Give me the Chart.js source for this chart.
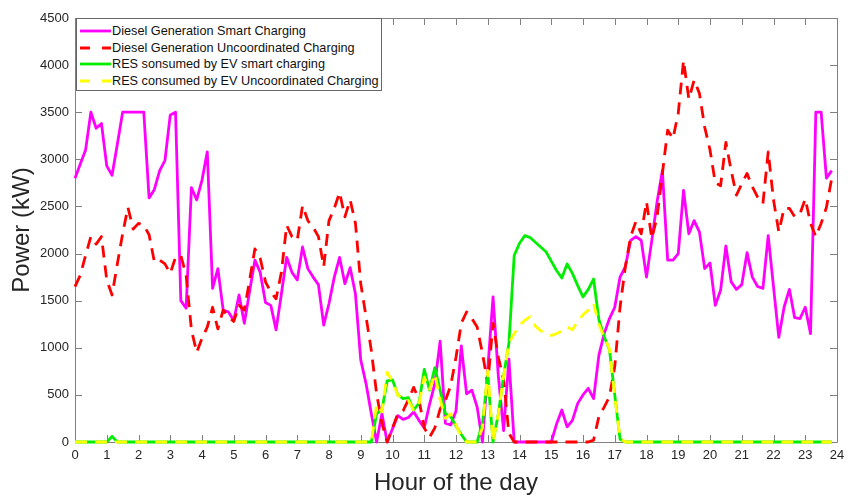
<!DOCTYPE html>
<html>
<head>
<meta charset="utf-8">
<script src="https://cdn.jsdelivr.net/npm/chart.js@4.4.1/dist/chart.umd.min.js"></script>
<style>
  body { margin: 0; background: #fff; }
  #wrap { position: relative; width: 858px; height: 498px; }
  #legend {
    position: absolute; left: 76px; top: 18px; width: 306px; height: 73px;
    box-sizing: border-box; border: 1px solid #666; background: #fff;
    font: 12.7px "Liberation Sans", Arial, sans-serif; color: #111; padding-top: 4px;
  }
  .row { height: 16.6px; display: flex; align-items: center; white-space: nowrap; }
  .row svg { margin: 0 1px 0 3px; }
</style>
</head>
<body>
<div id="wrap">
  <canvas id="chart" width="858" height="498"></canvas>
  <div id="legend"></div>
</div>
<script>
// 10-minute samples over the day, values in kW
const hours = Array.from({ length: 144 }, (_, i) => i / 6);
const xTicks = [0, 24, 1];   // min, max, step
const yTicks = [0, 4500, 500];

const seriesNames = [
  'Diesel Generation Smart Charging',
  'Diesel Generation Uncoordinated Charging',
  'RES sonsumed by EV smart charging',
  'RES consumed by EV Uncoordinated Charging'
];

const dieselSmart = [
  2800, 2950, 3100, 3500, 3330, 3380, 2930, 2830, 3160, 3500, 3500, 3500,
  3500, 3500, 2590, 2680, 2880, 2990, 3470, 3500, 1500, 1420, 2700, 2570,
  2780, 3080, 1630, 1840, 1400, 1380, 1290, 1560, 1260, 1600, 1930, 1800,
  1480, 1450, 1190, 1570, 1960, 1800, 1720, 2070, 1840, 1750, 1670, 1240,
  1470, 1750, 1960, 1680, 1850, 1570, 870, 620, 300, 0, 300, 0,
  140, 280, 240, 260, 320, 230, 150, 400, 620, 1070, 200, 180,
  330, 1020, 510, 550, 370, 0, 770, 1540, 700, 120, 880, 0,
  0, 0, 0, 0, 0, 0, 0, 190, 340, 160, 230, 410,
  500, 570, 460, 920, 1150, 1310, 1430, 1750, 1860, 2140, 2180, 2140,
  1750, 2140, 2550, 2880, 1930, 1930, 2000, 2670, 2210, 2350, 2230, 1840,
  1900, 1450, 1610, 2080, 1700, 1620, 1670, 2010, 1750, 1650, 1630, 2190,
  1650, 1110, 1430, 1620, 1320, 1310, 1430, 1150, 3500, 3500, 2800, 2880
];

const dieselUncoord = [
  1650, 1770, 1980, 2180, 2100, 2180, 1720, 1560, 1890, 2210, 2490, 2260,
  2320, 2300, 2200, 1910, 1930, 1890, 1790, 1960, 1980, 1770, 1190, 950,
  1100, 1220, 1430, 1200, 1400, 1330, 1280, 1450, 1400, 1720, 2050, 1950,
  1700, 1590, 1520, 1800, 2300, 2180, 2140, 2510, 2350, 2280, 2180, 1860,
  2350, 2480, 2650, 2390, 2570, 2320, 1680, 1330, 970, 510, 200, 0,
  150, 300, 330, 450, 580, 450, 150, 50, 150, 350, 440, 600,
  900, 1260, 1380, 1310, 1220, 940, 620, 1260, 900, 660, 90, 0,
  0, 0, 0, 0, 0, 0, 0, 0, 0, 0, 0, 0,
  0, 0, 20, 270, 370, 480, 800, 1430, 1860, 2180, 2340, 2210,
  2550, 2160, 2390, 2850, 3310, 3220, 3490, 4050, 3640, 3840, 3700, 3340,
  3100, 2750, 2720, 3180, 2880, 2620, 2740, 2850, 2710, 2600, 2530, 3080,
  2570, 2230, 2480, 2480, 2390, 2420, 2580, 2320, 2180, 2320, 2490, 2800
];

const resSmart = [
  0, 0, 0, 0, 0, 0, 0, 60, 0, 0, 0, 0,
  0, 0, 0, 0, 0, 0, 0, 0, 0, 0, 0, 0,
  0, 0, 0, 0, 0, 0, 0, 0, 0, 0, 0, 0,
  0, 0, 0, 0, 0, 0, 0, 0, 0, 0, 0, 0,
  0, 0, 0, 0, 0, 0, 0, 0, 0, 300, 340, 650,
  660, 500, 460, 470, 340, 410, 770, 550, 790, 550, 300, 270,
  170, 80, 0, 0, 0, 200, 700, 0, 300, 700, 1050, 1980,
  2110, 2190, 2170, 2120, 2070, 2020, 1920, 1820, 1740, 1890, 1790, 1660,
  1540, 1620, 1730, 1300, 1120, 980, 500, 30, 0, 0, 0, 0,
  0, 0, 0, 0, 0, 0, 0, 0, 0, 0, 0, 0,
  0, 0, 0, 0, 0, 0, 0, 0, 0, 0, 0, 0,
  0, 0, 0, 0, 0, 0, 0, 0, 0, 0, 0, 0
];

const resUncoord = [
  0, 0, 0, 0, 0, 0, 0, 0, 0, 0, 0, 0,
  0, 0, 0, 0, 0, 0, 0, 0, 0, 0, 0, 0,
  0, 0, 0, 0, 0, 0, 0, 0, 0, 0, 0, 0,
  0, 0, 0, 0, 0, 0, 0, 0, 0, 0, 0, 0,
  0, 0, 0, 0, 0, 0, 0, 0, 0, 400, 320, 740,
  640, 500, 450, 440, 340, 400, 690, 560, 720, 450, 250, 300,
  180, 60, 0, 0, 0, 150, 760, 0, 300, 700, 1050, 1150,
  1240, 1290, 1330, 1230, 1180, 1150, 1130, 1150, 1180, 1220, 1190, 1280,
  1350, 1400, 1470, 1250, 1110, 990, 480, 40, 0, 0, 0, 0,
  0, 0, 0, 0, 0, 0, 0, 0, 0, 0, 0, 0,
  0, 0, 0, 0, 0, 0, 0, 0, 0, 0, 0, 0,
  0, 0, 0, 0, 0, 0, 0, 0, 0, 0, 0, 0
];

const colors = ['#ff00ff', '#ff0000', '#00ee00', '#ffff00'];
const dashes = [[], [12, 8], [], [12, 8]];
const allSeries = [dieselSmart, dieselUncoord, resSmart, resUncoord];

Chart.defaults.font.family = '"Liberation Sans", Arial, sans-serif';
Chart.defaults.color = '#262626';

// MATLAB style box with inward ticks on all four sides
const axesBox = {
  id: 'axesBox',
  beforeDatasetsDraw(chart) {
    const { ctx, chartArea: a, scales: { x, y } } = chart;
    ctx.save();
    ctx.strokeStyle = '#808080';
    ctx.lineWidth = 1;
    ctx.beginPath();
    x.ticks.forEach(t => {
      const px = Math.round(x.getPixelForValue(t.value)) + 0.5;
      ctx.moveTo(px, a.bottom); ctx.lineTo(px, a.bottom - 7);
      ctx.moveTo(px, a.top); ctx.lineTo(px, a.top + 7);
    });
    y.ticks.forEach(t => {
      const py = Math.round(y.getPixelForValue(t.value)) + 0.5;
      ctx.moveTo(a.left, py); ctx.lineTo(a.left + 7, py);
      ctx.moveTo(a.right, py); ctx.lineTo(a.right - 7, py);
    });
    ctx.rect(Math.round(a.left) + 0.5, Math.round(a.top) + 0.5,
      Math.round(a.right - a.left), Math.round(a.bottom - a.top));
    ctx.stroke();
    ctx.restore();
  }
};

new Chart(document.getElementById('chart'), {
  type: 'line',
  data: {
    datasets: allSeries.map((vals, i) => ({
      label: seriesNames[i],
      data: vals.map((v, k) => ({ x: hours[k], y: v })),
      borderColor: colors[i],
      borderDash: dashes[i],
      borderWidth: 2.8,
      borderJoinStyle: 'round',
      pointRadius: 0,
      tension: 0,
      fill: false,
      clip: false,
      order: 4 - i
    }))
  },
  options: {
    responsive: false,
    animation: false,
    layout: { padding: { top: 18, right: 21, left: 0, bottom: 0 } },
    plugins: { legend: { display: false }, tooltip: { enabled: false } },
    scales: {
      x: {
        type: 'linear',
        min: xTicks[0], max: xTicks[1],
        ticks: { stepSize: xTicks[2], autoSkip: false, maxRotation: 0, font: { size: 13 }, padding: 6 },
        grid: { display: false, drawTicks: false },
        border: { display: false },
        title: { display: true, text: 'Hour of the day', font: { size: 24 }, padding: { top: 0, bottom: 0 } },
        afterFit: s => { s.height = 56; }
      },
      y: {
        min: yTicks[0], max: yTicks[1],
        ticks: { stepSize: yTicks[2], font: { size: 13 }, padding: 6, callback: v => String(v) },
        grid: { display: false, drawTicks: false },
        border: { display: false },
        title: { display: true, text: 'Power (kW)', font: { size: 24 }, padding: { top: 8, bottom: 0 } },
        afterFit: s => { s.width = 75; }
      }
    }
  },
  plugins: [axesBox]
});

// legend box drawn inside the plot, top left
const legend = document.getElementById('legend');
seriesNames.forEach((name, i) => {
  const row = document.createElement('div');
  row.className = 'row';
  const dash = dashes[i].length ? `stroke-dasharray="10 12"` : '';
  row.innerHTML = `<svg width="31" height="6"><line x1="0" y1="3" x2="31" y2="3" stroke="${colors[i]}" stroke-width="2.8" ${dash}/></svg><span>${name}</span>`;
  legend.appendChild(row);
});
</script>
</body>
</html>
